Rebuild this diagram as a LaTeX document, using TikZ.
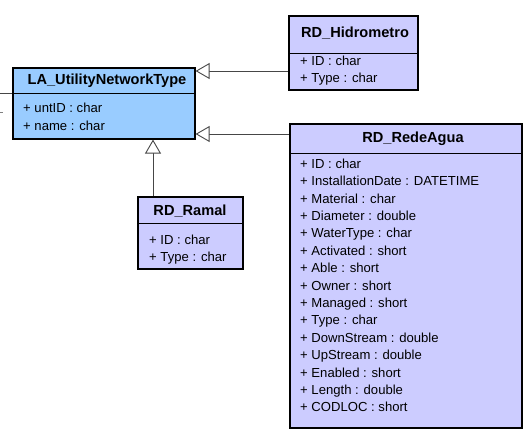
\documentclass[tikz,border=0pt]{standalone}
\usepackage{fontspec}
\setmainfont{Liberation Sans}
\usetikzlibrary{arrows.meta}
\definecolor{lablue}{RGB}{153,204,255}
\definecolor{lavender}{RGB}{204,204,255}
\definecolor{conn}{RGB}{70,70,70}
\tikzset{
  umlbox/.style={draw=black, line width=1.6pt, anchor=north west, inner sep=0pt},
  sepline/.style={draw=black, line width=0.9pt},
  hdr/.style={font=\fontsize{14.6}{15}\selectfont\bfseries, inner sep=0pt, text height=10.5pt, text depth=3pt},
  attr/.style={font=\fontsize{13.1}{14}\selectfont, anchor=west, inner sep=0pt, text height=9.5pt, text depth=3pt},
  inh/.style={draw=conn, line width=0.9pt, -{Triangle[open, length=14pt, width=16pt, fill=white]}},
}
\begin{document}
\begin{tikzpicture}[x=1pt, y=-1pt]
\useasboundingbox (0,0) rectangle (530,444);
% boxes
\node[umlbox, fill=lablue, minimum width=182pt, minimum height=71pt] (la) at (12,67) {};
\node[umlbox, fill=lavender, minimum width=129pt, minimum height=74pt] (hid) at (288,15) {};
\node[umlbox, fill=lavender, minimum width=105pt, minimum height=72pt] (ramal) at (137,196) {};
\node[umlbox, fill=lavender, minimum width=232pt, minimum height=304pt] (rede) at (289,123) {};
% separators
\draw[sepline] (12,93) -- (194,93);
\draw[sepline] (288,53) -- (417,53);
\draw[sepline] (137,223) -- (242,223);
\draw[sepline] (289,153) -- (521,153);
% headers
\node[hdr] (laH) at (107,81) {LA\_UtilityNetworkType};
\node[hdr] (hidH) at (355,34) {RD\_Hidrometro};
\node[hdr] (ramalH) at (190,212) {RD\_Ramal};
\node[hdr] (redeH) at (413,139) {RD\_RedeAgua};
% attributes
\node[attr] (la1) at (23,109) {+ untID : char};
\node[attr] (la2) at (23,127) {+ name : char};
\node[attr] (hid1) at (300,62) {+ ID : char};
\node[attr] (hid2) at (300,79) {+ Type : char};
\node[attr] (ra1) at (149,241) {+ ID : char};
\node[attr] (ra2) at (149,258) {+ Type : char};
\foreach \t [count=\i from 0] in {{+ ID : char},{+ InstallationDate : DATETIME},{+ Material : char},{+ Diameter : double},{+ WaterType : char},{+ Activated : short},{+ Able : short},{+ Owner : short},{+ Managed : short},{+ Type : char},{+ DownStream : double},{+ UpStream : double},{+ Enabled : short},{+ Length : double},{+ CODLOC : short}}
  \node[attr] (re\i) at (300,165+17.4*\i) {\t};
% connectors
\coordinate (c1) at (0,71);
\coordinate (c2) at (0,134);
\coordinate (c3) at (153,0);
\coordinate (c4) at (0,93);
\coordinate (c5) at (0,112);
\draw[inh] (hid.west |- c1) -- (la.east |- c1);
\draw[inh] (rede.west |- c2) -- (la.east |- c2);
\draw[inh] (ramal.north -| c3) -- (la.south -| c3);
\draw[draw=conn, line width=0.9pt] (c4) -- (la.west |- c4);
\draw[draw=gray, line width=0.8pt] (c5) -- ++(2.5,0);
\end{tikzpicture}
\end{document}
